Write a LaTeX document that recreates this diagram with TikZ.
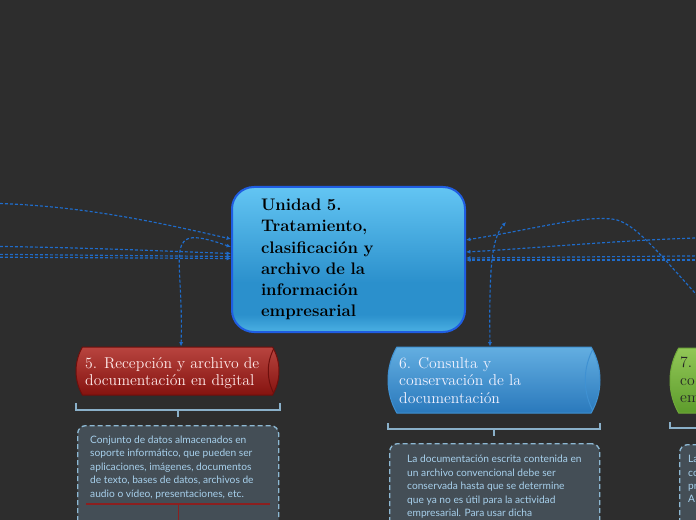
\documentclass[tikz,border=0pt]{standalone}
\usepackage{fontspec}
\usepackage{xcolor}
\usepackage{tikz}
\usetikzlibrary{arrows.meta,positioning,shapes.geometric,shapes.misc,calc}
\newfontfamily\notefont{Lato}
\definecolor{mapBg}{HTML}{2D2D2D}
\definecolor{mapLink}{HTML}{1F6CCB}
\definecolor{centerEdge}{HTML}{1F5DE2}
\definecolor{centerTop}{HTML}{63C5F3}
\definecolor{centerMid}{HTML}{2B90CC}
\definecolor{centerLow}{HTML}{4BB0E3}
\definecolor{recepTop}{HTML}{B8443F}
\definecolor{recepLow}{HTML}{85130F}
\definecolor{recepEdge}{HTML}{6E0F0C}
\definecolor{consultaTop}{HTML}{63AEE1}
\definecolor{consultaLow}{HTML}{2A79BC}
\definecolor{consultaEdge}{HTML}{3F91D2}
\definecolor{greenTop}{HTML}{92C757}
\definecolor{greenLow}{HTML}{5D9C2C}
\definecolor{greenEdge}{HTML}{6FA83A}
\definecolor{bracketLine}{HTML}{8AB0C9}
\definecolor{noteFill}{HTML}{444E56}
\definecolor{noteEdge}{HTML}{8DB8D3}
\definecolor{noteInk}{HTML}{A7D0EC}
\definecolor{ruleRed}{HTML}{8C1F1F}
\pgfdeclareverticalshading{centerShade}{100bp}{color(0bp)=(centerLow); color(25bp)=(centerLow); color(31bp)=(centerMid); color(42bp)=(centerMid); color(75bp)=(centerTop); color(100bp)=(centerTop)}
\tikzset{
  centerTopic/.style={
    rectangle,
    rounded corners=6.6mm,
    draw=centerEdge,
    line width=0.6mm,
    shade,
    shading=centerShade,
    minimum width=69.9mm,
    minimum height=43.5mm,
    text width=52.5mm,
    inner xsep=8.7mm,
    align=left,
    text=black,
    font=\fontsize{14.3}{18.2}\selectfont\bfseries
  },
  subTopic/.style={
    rounded rectangle,
    rounded rectangle arc length=60,
    line width=0.3mm,
    inner sep=0pt,
    path picture={
      \draw[line width=0.3mm,draw=#1]
        ([xshift=-0.134*\pgfkeysvalueof{/pgf/minimum height}]path picture bounding box.north east)
        arc[start angle=150,end angle=210,radius=\pgfkeysvalueof{/pgf/minimum height}];
    }
  },
  topicLabel/.style={
    anchor=north west,
    inner sep=0pt,
    align=left,
    font=\fontsize{13.4}{14.9}\selectfont
  },
  noteBox/.style={
    rectangle,
    rounded corners=2.4mm,
    draw=noteEdge,
    fill=noteFill,
    line width=0.4mm,
    dash pattern=on 1.5mm off 0.9mm,
    minimum height=45mm,
    anchor=north west
  },
  noteLabel/.style={
    anchor=north west,
    inner sep=0pt,
    align=left,
    text=noteInk,
    font=\notefont\fontsize{8.7}{11.5}\selectfont
  },
  bracket/.style={
    draw=bracketLine,
    line width=0.4mm
  },
  link/.style={
    draw=mapLink,
    line width=0.35mm,
    dash pattern=on 0.9mm off 0.6mm,
    -{Latex[length=1.3mm,width=1.2mm]}
  },
  linkBoth/.style={
    link,
    {Latex[length=1.3mm,width=1.2mm]}-{Latex[length=1.3mm,width=1.2mm]}
  },
  redRule/.style={
    draw=ruleRed,
    line width=0.35mm
  }
}

\begin{document}
\begin{tikzpicture}[x=0.3mm,y=-0.3mm]
  \useasboundingbox (0,0) rectangle (696,520);
  \clip (0,0) rectangle (696,520);
  \fill[mapBg] (0,0) rectangle (696,520);
  % main topic
  \node[centerTopic] (center) at (348.5,259.5) {Unidad 5.\\Tratamiento,\\clasificación y\\archivo de la\\información\\empresarial};
  % subtopics
  \node[subTopic=recepEdge,draw=recepEdge,top color=recepTop,bottom color=recepLow,minimum width=60.9mm,minimum height=14.4mm] (recep) at (177.5,371) {};
  \node[topicLabel,text=white!92!red] (recepLabel) at (85,357) {5. Recepción y archivo de\\documentación en digital};
  \node[subTopic=consultaEdge,draw=consultaEdge,top color=consultaTop,bottom color=consultaLow,minimum width=63.6mm,minimum height=19.8mm] (consulta) at (494,380) {};
  \node[topicLabel,text=white!95!blue] (consultaLabel) at (399,357) {6. Consulta y\\conservación de la\\documentación};
  \node[subTopic=greenEdge,draw=greenEdge,top color=greenTop,bottom color=greenLow,minimum width=63.6mm,minimum height=19.5mm] (topic7) at (776,380.5) {};
  \node[topicLabel,text=black!85] (topic7Label) at (680,357) {7. T\\co\\em};
  % brackets under the subtopics
  \draw[bracket] (76,403) |- (280,410) -- (280,403);
  \draw[bracket] (recep.south |- 0,410) ++(0.5,0) -- ++(0,6.5);
  \draw[bracket] (388,423) |- (600,429) -- (600,423);
  \draw[bracket] (consulta.south |- 0,429) -- ++(0,7);
  \draw[bracket] (670,422) |- (720,428);
  % notes
  \node[noteBox,minimum width=60.3mm] (recepBox) at (77,425) {};
  \node[noteLabel] (recepNote) at (90,435.5) {Conjunto de datos almacenados en\\soporte informático, que pueden ser\\aplicaciones, imágenes, documentos\\de texto, bases de datos, archivos de\\audio o vídeo, presentaciones, etc.};
  \draw[redRule] (86,504) -- (270,504);
  \draw[redRule] (recepBox.north |- 0,504) -- ++(0,30);
  \node[noteBox,minimum width=63mm] (consultaBox) at (389,443) {};
  \node[noteLabel] (consultaNote) at (407,455) {La documentación escrita contenida en\\un archivo convencional debe ser\\conservada hasta que se determine\\que ya no es útil para la actividad\\empresarial. Para usar dicha};
  \node[noteBox,minimum width=63mm] (topic7Box) at (679,444) {};
  \node[noteLabel] (topic7Note) at (688,455) {La\\co\\pr\\A};
  % links
  \coordinate (farLeftA) at (-40,203);
  \coordinate (farLeftB) at (-40,246);
  \coordinate (farLeftC) at (-40,254);
  \coordinate (farLeftD) at (-40,257);
  \coordinate (farRightA) at (740,237);
  \coordinate (farRightB) at (740,255.5);
  \coordinate (farRightC) at (740,260);
  \coordinate (consultaTip) at (506,222);
  \draw[link] (farLeftA) .. controls (60,202) and (140,218) .. ($(center.west)+(0,-20.5)$);
  \draw[linkBoth] ($(recep.north)+(3.5,0)$) .. controls (184,250) and (160,222) .. ($(center.west)+(0,-12.5)$);
  \draw[link] (farLeftB) .. controls (80,247) and (160,251) .. ($(center.west)+(0,-6)$);
  \draw[link] (farLeftC) -- ($(center.west)+(0,-3)$);
  \draw[link] (farLeftD) -- ($(center.west)+(0,-1)$);
  \draw[link] ($(topic7.north)+(-30,0)$) .. controls (670,270) and (640,222) .. (612,219) .. controls (580,216) and (540,228) .. ($(center.east)+(0,-19.5)$);
  \draw[link] (farRightA) .. controls (640,238) and (540,248) .. ($(center.east)+(0,-7.5)$);
  \draw[link] (farRightB) -- ($(center.east)+(0,-1.5)$);
  \draw[link] (farRightC) -- ($(center.east)+(0,0.5)$);
  \draw[linkBoth] ($(consulta.north)+(-4,0)$) .. controls (489,265) and (492,238) .. (consultaTip);
\end{tikzpicture}
\end{document}
